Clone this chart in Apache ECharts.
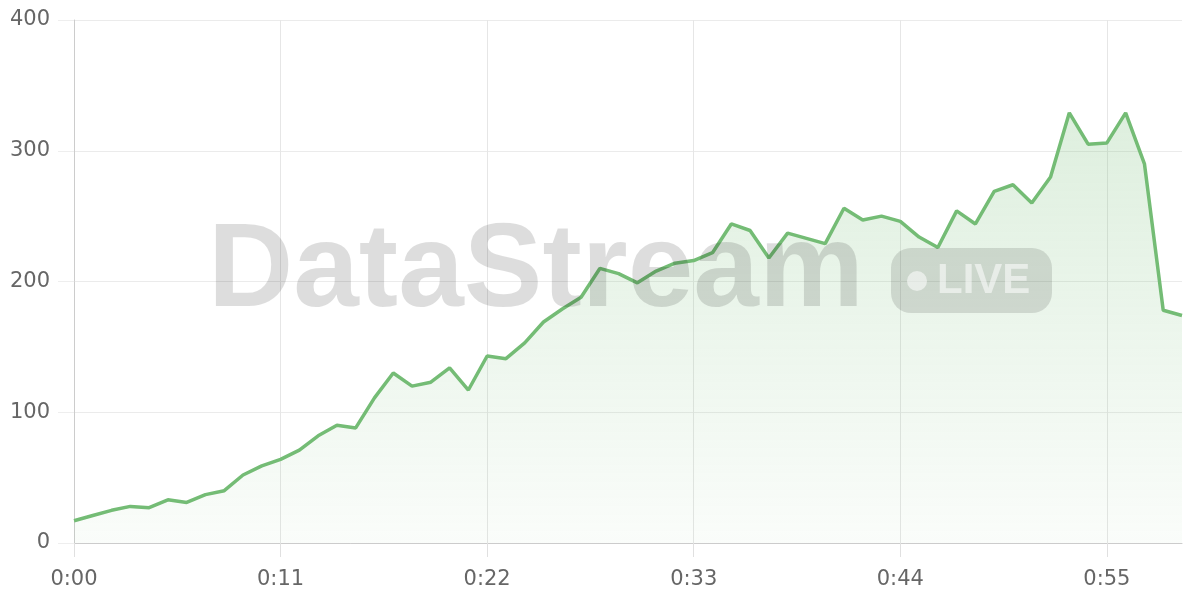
<!DOCTYPE html>
<html>
<head>
<meta charset="utf-8">
<script src="https://cdn.jsdelivr.net/npm/echarts@6/dist/echarts.min.js"></script>
<style>
html,body{margin:0;padding:0;background:#fff;}
#c{width:1200px;height:600px;}
</style>
</head>
<body>
<div id="c"></div>
<script>
// time labels (one point per second)
var categories = [];
for (var s = 0; s < 60; s++) { categories.push('0:' + (s < 10 ? '0' + s : s)); }

var values = [
  17, 21, 25, 28, 27, 33, 31, 37, 40, 52,
  59, 64, 71, 82, 90, 88, 111, 130, 120, 123,
  134, 117, 143, 141, 153, 169, 179, 188, 210, 206,
  199, 208, 214, 216, 222, 244, 239, 218, 237, 233,
  229, 256, 247, 250, 246, 234, 226, 254, 244, 269,
  274, 260, 280, 329, 305, 306, 329, 290, 178, 174
];

var yTicks = [0, 100, 200, 300, 400];
var watermarkTitle = 'DataStream';
var watermarkBadge = 'LIVE';

var chart = echarts.init(document.getElementById('c'), null, {renderer: 'canvas'});
var labelFont = '"DejaVu Sans", sans-serif';
chart.setOption({
  animation: false,
  grid: {left: 74, right: 18, top: 20, bottom: 57, containLabel: false},
  xAxis: {
    type: 'category',
    data: categories,
    boundaryGap: false,
    axisLine: {show: true, lineStyle: {color: '#cccccc', width: 1}},
    axisTick: {show: true, interval: 10, length: 14, lineStyle: {color: '#e0e0e0'}},
    axisLabel: {interval: 10, margin: 26, color: '#666666', fontSize: 21, fontFamily: labelFont},
    splitLine: {show: true, interval: 10, lineStyle: {color: '#e6e6e6', width: 1}}
  },
  yAxis: {
    type: 'value',
    min: yTicks[0],
    max: yTicks[yTicks.length - 1],
    interval: 100,
    axisLine: {show: true, lineStyle: {color: '#cccccc', width: 1}},
    axisTick: {show: true, length: 16, lineStyle: {color: '#eeeeee'}},
    axisLabel: {margin: 24, color: '#666666', fontSize: 21, fontFamily: labelFont},
    splitLine: {show: true, lineStyle: {color: '#ebebeb', width: 1}}
  },
  series: [{
    type: 'line',
    data: values,
    symbol: 'none',
    lineStyle: {color: '#74bc75', width: 3.5},
    itemStyle: {color: '#74bc75'},
    areaStyle: {
      color: new echarts.graphic.LinearGradient(0, 0, 0, 1, [
        {offset: 0, color: 'rgba(116,188,117,0.34)'},
        {offset: 1, color: 'rgba(116,188,117,0.05)'}
      ])
    },
    z: 2
  }],
  graphic: [
    {
      type: 'text', z: 100, silent: true,
      style: {
        text: watermarkTitle, x: 208, y: 273,
        font: 'bold 118px "Liberation Sans", Arial, sans-serif',
        fill: 'rgba(0,0,0,0.135)', textAlign: 'left', textVerticalAlign: 'middle'
      }
    },
    {
      type: 'rect', z: 100, silent: true,
      shape: {x: 891, y: 248, width: 161, height: 65, r: 20},
      style: {fill: 'rgba(0,0,0,0.12)'}
    },
    {
      type: 'circle', z: 101, silent: true,
      shape: {cx: 917, cy: 281, r: 10},
      style: {fill: 'rgba(255,255,255,0.55)'}
    },
    {
      type: 'text', z: 101, silent: true,
      style: {
        text: watermarkBadge, x: 937, y: 281,
        font: 'bold 42px "Liberation Sans", Arial, sans-serif',
        fill: 'rgba(255,255,255,0.55)', textAlign: 'left', textVerticalAlign: 'middle'
      }
    }
  ]
});
</script>
</body>
</html>
